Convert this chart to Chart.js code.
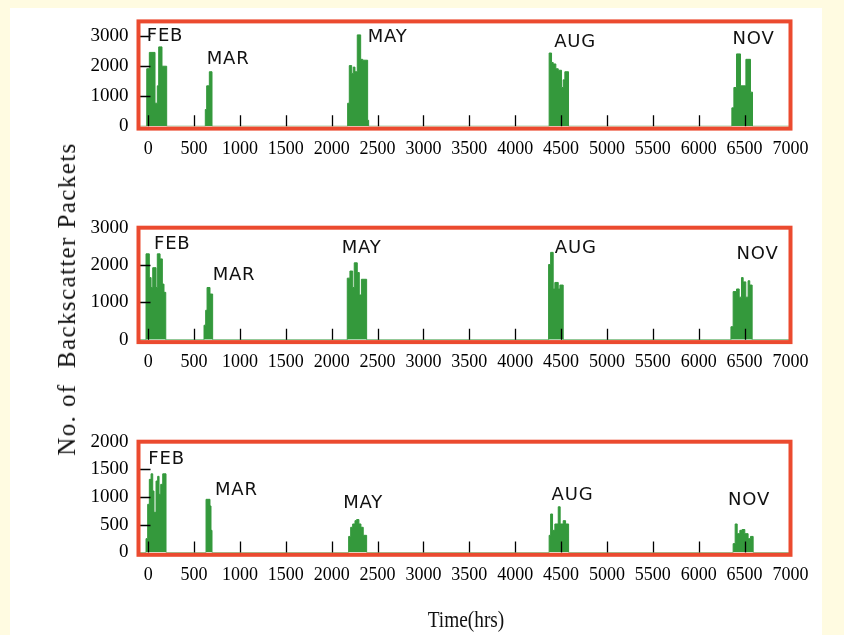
<!DOCTYPE html>
<html>
<head>
<meta charset="utf-8">
<script src="https://cdn.jsdelivr.net/npm/chart.js@4/dist/chart.umd.min.js"></script>
<style>
html,body{margin:0;padding:0;background:#fffbe1;}
#wrap{position:relative;width:844px;height:635px;overflow:hidden;}
#white{position:absolute;left:10px;top:8px;width:812px;height:627px;background:#fff;}
canvas{position:absolute;left:0;top:0;}
#ytitle{position:absolute;left:67px;top:299px;transform:translate(-50%,-50%) rotate(-90deg);font-family:'Liberation Serif';font-size:25px;letter-spacing:1.4px;white-space:nowrap;color:#111;}
#xtitle{position:absolute;left:466px;top:620px;transform:translate(-50%,-50%) scale(0.92,1.1);font-family:'Liberation Serif';font-size:21px;white-space:nowrap;color:#111;}
</style>
</head>
<body>
<div id="wrap">
  <div id="white"></div>
  <canvas id="c1" width="844" height="635"></canvas>
  <canvas id="c2" width="844" height="635"></canvas>
  <canvas id="c3" width="844" height="635"></canvas>
  <div id="ytitle">No. of&nbsp; Backscatter Packets</div>
  <div id="xtitle">Time(hrs)</div>
</div>
<script>
// ---------- data ----------
const months = ['FEB', 'MAR', 'MAY', 'AUG', 'NOV'];
const xTickHours = [0, 500, 1000, 1500, 2000, 2500, 3000, 3500, 4000, 4500, 5000, 5500, 6000, 6500, 7000];
const topYTicks = [0, 1000, 2000, 3000];
const midYTicks = [0, 1000, 2000, 3000];
const botYTicks = [0, 500, 1000, 1500, 2000];

// bin start hour -> packets in that bin (value holds until next hour entry)
const topHours = [-105, -15, 13, 75, 100, 115, 151, 202,
  623, 638, 667, 696,
  2174, 2192, 2218, 2235, 2254, 2279, 2316, 2338, 2392, 2403,
  4370, 4396, 4414, 4443, 4469, 4505, 4523, 4541, 4581,
  6361, 6383, 6412, 6455, 6514, 6564, 6586, 7000];
const topPackets = [0, 1920, 2465, 770, 1350, 2650, 2005, 0,
  560, 1350, 1820, 0,
  770, 2025, 1765, 1975, 1820, 3050, 2235, 2205, 200, 0,
  2445, 2130, 2080, 1920, 1870, 1295, 1550, 1820, 0,
  615, 1295, 2415, 1350, 2235, 1140, 0, 0];

const midHours = [-105, -23, 13, 32, 50, 86, 100, 130, 155, 173, 192,
  609, 627, 642, 674, 703,
  2170, 2199, 2229, 2246, 2279, 2301, 2324, 2381,
  4364, 4386, 4414, 4432, 4469, 4487, 4523,
  6351, 6375, 6412, 6441, 6466, 6484, 6513, 6538, 6556, 6582, 7000];
const midPackets = [0, 2300, 1665, 1400, 1930, 1400, 2300, 2165, 1490, 1270, 0,
  390, 790, 1400, 1225, 0,
  1650, 1840, 1400, 2060, 1800, 1200, 1620, 0,
  2015, 2340, 1360, 1535, 1360, 1465, 0,
  350, 1290, 1360, 1140, 1665, 1550, 1140, 1580, 1465, 0, 0];

const botHours = [-105, -23, -5, 13, 32, 50, 64, 86, 104, 119, 137, 159, 195,
  631, 674, 685, 696,
  2185, 2207, 2229, 2254, 2272, 2297, 2319, 2344, 2381,
  4370, 4386, 4407, 4432, 4469, 4490, 4523, 4549, 4582,
  6375, 6397, 6419, 6448, 6473, 6502, 6538, 6564, 6593, 7000];
const botPackets = [0, 250, 870, 1320, 1420, 1110, 725, 1290, 1375, 1050, 1230, 1420, 0,
  960, 840, 400, 0,
  290, 455, 515, 575, 595, 515, 455, 310, 0,
  310, 695, 400, 515, 825, 515, 575, 515, 0,
  160, 515, 340, 400, 415, 340, 250, 290, 0, 0];

// month label anchors (hours, packets)
const topLabelHours = [-15, 638, 2392, 4425, 6368];
const topLabelPackets = [2997, 2245, 2965, 2800, 2915];
const midLabelHours = [64, 703, 2109, 4432, 6412];
const midLabelPackets = [2544, 1719, 2457, 2457, 2294];
const botLabelHours = [2, 729, 2126, 4396, 6320];
const botLabelPackets = [1674, 1122, 894, 1030, 939];

// ---------- drawing ----------
const GREEN = '#34993c';
const RED = '#eb4a2f';
const CANVAS_W = 844, CANVAS_H = 635;
const AREA_LEFT = 138.5, AREA_RIGHT = 790.5;

function makeDecor(yTicks, labelHours, labelPackets) {
  return {
    id: 'panelDecor',
    afterDatasetsDraw(chart) {
      const ctx = chart.ctx, a = chart.chartArea, x = chart.scales.x, y = chart.scales.y;
      ctx.save();
      ctx.strokeStyle = '#000';
      ctx.lineWidth = 1.3;
      ctx.beginPath();
      xTickHours.forEach(v => {
        if (v <= x.min || v >= x.max) return;
        const px = Math.round(x.getPixelForValue(v)) + 0.5;
        ctx.moveTo(px, a.bottom);
        ctx.lineTo(px, a.bottom - 11);
      });
      yTicks.forEach(v => {
        if (v <= y.min || v >= y.max) return;
        const py = Math.round(y.getPixelForValue(v)) + 0.5;
        ctx.moveTo(a.left, py);
        ctx.lineTo(a.left + 12, py);
      });
      ctx.stroke();
      ctx.fillStyle = '#111';
      ctx.font = '18px "DejaVu Sans"';
      try { ctx.letterSpacing = '0.8px'; } catch (e) {}
      ctx.textAlign = 'left';
      ctx.textBaseline = 'middle';
      months.forEach((m, i) => {
        ctx.fillText(m, x.getPixelForValue(labelHours[i]), y.getPixelForValue(labelPackets[i]));
      });
      ctx.strokeStyle = RED;
      ctx.lineWidth = 4;
      ctx.strokeRect(a.left, a.top, a.right - a.left, a.bottom + 2.3 - a.top);
      ctx.restore();
    }
  };
}

function makeChart(id, hours, packets, yTicks, yMax, labelHours, labelPackets, top, bottom) {
  const points = hours.map((h, i) => ({ x: h, y: packets[i] }));
  return new Chart(document.getElementById(id), {
    type: 'line',
    data: {
      datasets: [{
        data: points,
        stepped: 'before',
        fill: 'origin',
        backgroundColor: GREEN,
        borderColor: GREEN,
        borderWidth: 1,
        pointRadius: 0,
        tension: 0
      }]
    },
    options: {
      responsive: false,
      animation: false,
      layout: { padding: { top: top, right: CANVAS_W - AREA_RIGHT, left: 0, bottom: 0 } },
      plugins: { legend: { display: false }, tooltip: { enabled: false } },
      scales: {
        x: {
          type: 'linear', min: -105, max: 7000,
          grid: { display: false, drawTicks: false },
          border: { display: false },
          afterBuildTicks: s => { s.ticks = xTickHours.map(v => ({ value: v })); },
          afterFit: s => { s.height = CANVAS_H - bottom; },
          ticks: { font: { family: 'Liberation Serif', size: 18 }, color: '#000', padding: 12,
                   maxRotation: 0, autoSkip: false, callback: v => String(v) }
        },
        y: {
          type: 'linear', min: 0, max: yMax,
          grid: { display: false, drawTicks: false },
          border: { display: false },
          afterBuildTicks: s => { s.ticks = yTicks.map(v => ({ value: v })); },
          afterFit: s => { s.width = AREA_LEFT; },
          ticks: { font: { family: 'Liberation Serif', size: 19 }, color: '#000', padding: 10,
                   autoSkip: false, callback: v => String(v) }
        }
      }
    },
    plugins: [makeDecor(yTicks, labelHours, labelPackets)]
  });
}

makeChart('c1', topHours, topPackets, topYTicks, 3500, topLabelHours, topLabelPackets, 14.7, 126.3);
makeChart('c2', midHours, midPackets, midYTicks, 3000, midLabelHours, midLabelPackets, 227.7, 339.8);
makeChart('c3', botHours, botPackets, botYTicks, 2000, botLabelHours, botLabelPackets, 441.7, 552.5);
</script>
</body>
</html>
